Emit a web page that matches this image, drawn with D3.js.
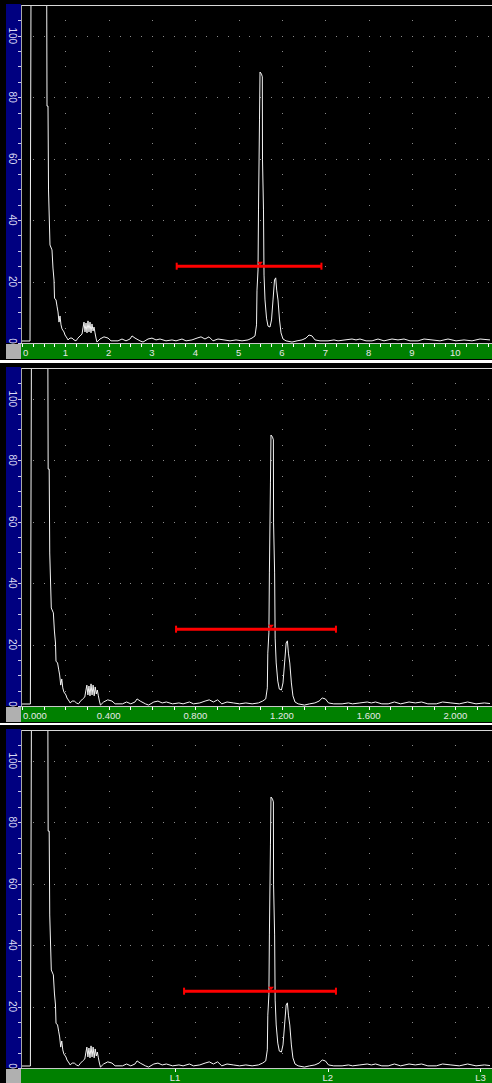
<!DOCTYPE html>
<html>
<head>
<meta charset="utf-8">
<script src="https://cdn.jsdelivr.net/npm/d3@7"></script>
<style>
  html, body { margin: 0; padding: 0; background: #ffffff; }
  svg { display: block; }
  text { font-family: "Liberation Sans", Arial, sans-serif; }
</style>
</head>
<body>
<svg id="scope" width="492" height="1083"></svg>
<script>
// Rectified A-scan echo: [sound path (mm), amplitude (% full screen height)]
const echoTrace = [
  [0, 0.65], [0.185, 0.65], [0.208, 115], [0.570, 115], [0.577, 77.1], [0.600, 77.1],
  [0.612, 49.8], [0.646, 31.9], [0.692, 30.3], [0.715, 24.4], [0.739, 20.5], [0.750, 14.6],
  [0.785, 14.0], [0.808, 12.0], [0.831, 10.1], [0.854, 6.8], [0.877, 8.8], [0.900, 5.9],
  [0.923, 4.6], [0.969, 3.6], [0.992, 2.6], [1.039, 1.6], [1.062, 1.0], [1.108, 1.6],
  [1.154, 1.6], [1.200, 1.0], [1.246, 0.7], [1.292, 1.6], [1.339, 2.3], [1.385, 2.9],
  [1.408, 4.9], [1.431, 6.8], [1.454, 3.6], [1.477, 6.5], [1.500, 3.3], [1.523, 7.2],
  [1.546, 3.6], [1.569, 6.8], [1.592, 3.3], [1.615, 6.2], [1.639, 3.9], [1.662, 5.2],
  [1.685, 3.3], [1.708, 1.6], [1.731, 0.3], [1.800, 1.3], [1.892, 2.0], [1.985, 1.6],
  [2.054, 0.7], [2.216, 0.7], [2.308, 1.3], [2.400, 0.7], [2.492, 1.3], [2.539, 2.3],
  [2.608, 1.6], [2.723, 0.7], [2.793, 0.3], [2.908, 1.3], [3.000, 1.6], [3.093, 1.0],
  [3.185, 1.3], [3.323, 0.7], [3.462, 1.0], [3.554, 0.7], [3.693, 1.3], [3.785, 0.7],
  [3.923, 1.0], [4.039, 1.6], [4.131, 2.0], [4.223, 1.3], [4.316, 2.0], [4.408, 0.7],
  [4.523, 1.3], [4.662, 1.0], [4.800, 0.7], [4.939, 1.0], [5.077, 0.7], [5.216, 1.0],
  [5.308, 1.6], [5.377, 2.3], [5.412, 5.9], [5.423, 17.2], [5.447, 23.8], [5.458, 43.3],
  [5.481, 72.6], [5.493, 88.2], [5.527, 87.5], [5.546, 86.6], [5.550, 59.6], [5.573, 43.3],
  [5.585, 22.1], [5.608, 14.0], [5.643, 8.1], [5.677, 5.5], [5.723, 5.2], [5.758, 7.5],
  [5.793, 14.0], [5.827, 20.5], [5.855, 21.2], [5.878, 17.2], [5.908, 14.0], [5.943, 7.5],
  [5.977, 3.3], [6.023, 1.3], [6.093, 0.7], [6.231, 0.3], [6.347, 0.7], [6.462, 1.0],
  [6.554, 1.6], [6.623, 2.6], [6.693, 2.3], [6.762, 1.0], [6.877, 0.7], [7.062, 0.7],
  [7.200, 1.0], [7.293, 0.7], [7.454, 1.0], [7.616, 1.3], [7.708, 1.0], [7.800, 1.3],
  [7.939, 0.7], [8.078, 0.7], [8.216, 1.3], [8.354, 0.7], [8.539, 1.3], [8.677, 1.0],
  [8.816, 1.3], [8.954, 0.7], [9.139, 0.7], [9.278, 1.3], [9.462, 1.0], [9.647, 0.7],
  [9.831, 1.3], [10.016, 0.7], [10.201, 1.0], [10.385, 0.7], [10.570, 1.3], [10.801, 1.0]
];

// Sound path covered per microsecond of time of flight
const mmPerMicrosecond = 4.78;

// Horizontal axis labels for the three display modes
const depthLabels = [0, 1, 2, 3, 4, 5, 6, 7, 8, 9, 10];
const timeLabels = [0, 0.4, 0.8, 1.2, 1.6, 2.0];
const legLabels = ["L1", "L2", "L3"];
const legPositions = [0.706, 1.411, 2.116]; // µs

// Amplitude scale labels (% FSH)
const amplitudeLabels = [0, 20, 40, 60, 80, 100];

// Gate A: level (%) and start/end on each panel's own axis
const gateLevel = 25;
const gateDepth = [3.57, 6.91];
const gateTime = [0.711, 1.449];
const gateTimeLegs = [0.748, 1.449];

// ---------------------------------------------------------------
const svg = d3.select("#scope");
const plotLeft = 22, plotRight = 490, plotTop = 5, plotBottom = 343;
const barTop = 344, barBottom = 359;

const yAmp = d3.scaleLinear().domain([0, 110]).range([plotBottom, plotTop]);
const xDiv = d3.scaleLinear().domain([0, 10.8]).range([plotLeft, plotRight]);
const xDepth = d3.scaleLinear().domain([0, 10.8]).range([plotLeft, plotRight]);
const xTime = d3.scaleLinear().domain([0, 2.16]).range([plotLeft, plotRight]);

const peak = echoTrace.reduce((a, b) => (b[1] > a[1] && b[1] < 100 ? b : a), [0, 0]);

const panels = [
  {
    top: 0, x: xDepth, conv: d => d,
    labels: depthLabels.map(v => ({ v, t: d3.format("d")(v) })),
    minor: d3.range(0, 10.8, 0.25), gate: gateDepth
  },
  {
    top: 363, x: xTime, conv: d => d / mmPerMicrosecond,
    labels: timeLabels.map(v => ({ v, t: d3.format(".3f")(v) })),
    minor: d3.range(0, 2.16, 0.1), gate: gateTime
  },
  {
    top: 725, x: xTime, conv: d => d / mmPerMicrosecond,
    labels: legLabels.map((t, i) => ({ v: legPositions[i], t })),
    minor: legPositions, gate: gateTimeLegs
  }
];

const defs = svg.append("defs");
defs.append("clipPath").attr("id", "plotClip")
  .append("rect")
  .attr("x", plotLeft).attr("y", plotTop + 1)
  .attr("width", plotRight - plotLeft).attr("height", plotBottom - plotTop - 1);

panels.forEach((p, i) => {
  const g = svg.append("g").attr("transform", `translate(0,${p.top})`);

  // screen background and side / bottom bars
  g.append("rect").attr("x", 0).attr("y", 0).attr("width", 492).attr("height", 360).attr("fill", "#000");
  g.append("rect").attr("x", 6).attr("y", 4).attr("width", 15).attr("height", plotBottom - 4).attr("fill", "#000080");
  g.append("rect").attr("x", 6).attr("y", barTop).attr("width", 15).attr("height", barBottom - barTop).attr("fill", "#b0b0b0");
  g.append("rect").attr("x", 21).attr("y", barTop).attr("width", 471).attr("height", barBottom - barTop).attr("fill", "#008000");

  // dotted graticule: rows every 20 %, columns every screen division
  const rowDots = [];
  [20, 40, 60, 80, 100].forEach(a => {
    d3.range(0.25, 10.8, 0.25).forEach(d => rowDots.push([xDiv(d), yAmp(a)]));
  });
  d3.range(1, 11).forEach(d => {
    d3.range(5, 110, 5).forEach(a => rowDots.push([xDiv(d), yAmp(a)]));
  });
  g.append("g").selectAll("rect").data(rowDots).join("rect")
    .attr("x", d => Math.round(d[0])).attr("y", d => Math.round(d[1]))
    .attr("width", 1).attr("height", 1).attr("fill", "#8a8a8a");

  // plot frame
  g.append("line").attr("x1", plotLeft).attr("x2", 492).attr("y1", plotTop + 0.5).attr("y2", plotTop + 0.5)
    .attr("stroke", "#d8d8d8").attr("stroke-width", 1);
  g.append("line").attr("x1", 21.5).attr("x2", 21.5).attr("y1", plotTop).attr("y2", plotBottom)
    .attr("stroke", "#a8a8a8").attr("stroke-width", 1);
  g.append("line").attr("x1", 21).attr("x2", 492).attr("y1", plotBottom + 0.5).attr("y2", plotBottom + 0.5)
    .attr("stroke", "#c8c8c8").attr("stroke-width", 1);

  // amplitude ticks and labels
  g.append("g").selectAll("line").data(d3.range(0, 110, 5)).join("line")
    .attr("x1", 18).attr("x2", 21).attr("y1", d => Math.round(yAmp(d)) + 0.5).attr("y2", d => Math.round(yAmp(d)) + 0.5)
    .attr("stroke", "#c8c8e8").attr("stroke-width", 1);
  g.append("g").selectAll("text").data(amplitudeLabels).join("text")
    .attr("transform", d => `translate(12.5,${d === 0 ? yAmp(d) - 2 : yAmp(d)}) rotate(90)`)
    .attr("text-anchor", "middle").attr("dominant-baseline", "central")
    .attr("font-size", 10).attr("fill", "#dcdcf4")
    .text(d => d);

  // horizontal ticks and labels on the green bar
  g.append("g").selectAll("line").data(p.minor).join("line")
    .attr("x1", d => Math.round(p.x(d)) + 0.5).attr("x2", d => Math.round(p.x(d)) + 0.5)
    .attr("y1", barTop).attr("y2", barTop + 3)
    .attr("stroke", "#ffffff").attr("stroke-width", 1);
  g.append("g").selectAll("text").data(p.labels).join("text")
    .attr("x", d => d.v === 0 ? p.x(d.v) + 1 : p.x(d.v))
    .attr("y", 356)
    .attr("text-anchor", d => d.v === 0 ? "start" : "middle")
    .attr("font-size", 9.5).attr("fill", "#e8e8e8")
    .text(d => d.t);

  // echo trace
  const line = d3.line()
    .x(d => p.x(p.conv(d[0])))
    .y(d => yAmp(d[1]));
  g.append("path").datum(echoTrace)
    .attr("clip-path", "url(#plotClip)")
    .attr("d", line)
    .attr("fill", "none").attr("stroke", "#f4f4f4").attr("stroke-width", 1)
    .attr("stroke-linejoin", "miter");

  // gate A bar with end caps and peak marker
  const gy = yAmp(gateLevel);
  const gx0 = p.x(p.gate[0]), gx1 = p.x(p.gate[1]);
  g.append("line").attr("x1", gx0).attr("x2", gx1).attr("y1", gy).attr("y2", gy)
    .attr("stroke", "#ff0000").attr("stroke-width", 3);
  [gx0, gx1].forEach(x => {
    g.append("rect").attr("x", x - 1).attr("y", gy - 3.5).attr("width", 2).attr("height", 7).attr("fill", "#ff0000");
  });
  const px = p.x(p.conv(peak[0]));
  g.append("path")
    .attr("d", `M${px - 3},${gy - 4.5} L${px + 3},${gy - 4.5} L${px},${gy - 1} Z`)
    .attr("fill", "#ff0000");
});
</script>
</body>
</html>
